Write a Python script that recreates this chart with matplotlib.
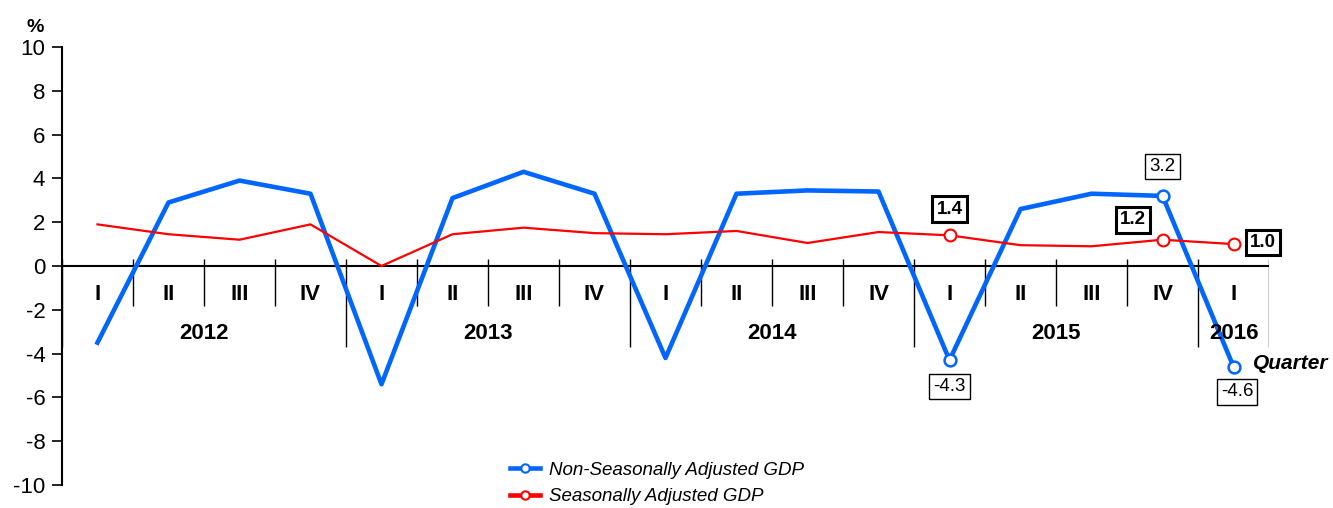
import numpy as np
import matplotlib
matplotlib.use("Agg")
from matplotlib import pyplot as plt

plt.rcParams['font.family'] = ['Liberation Sans', 'DejaVu Sans']
plt.rcParams['axes.unicode_minus'] = False

quarters = ['I', 'II', 'III', 'IV'] * 4 + ['I']
years = ['2012', '2013', '2014', '2015', '2016']
nsa_gdp = [-3.5, 2.9, 3.9, 3.3, -5.4, 3.1, 4.3, 3.3, -4.2, 3.3, 3.45, 3.4,
           -4.3, 2.6, 3.3, 3.2, -4.6]
sa_gdp = [1.9, 1.45, 1.2, 1.9, 0.0, 1.45, 1.75, 1.5, 1.45, 1.6, 1.05, 1.55,
          1.4, 0.95, 0.9, 1.2, 1.0]
marked = [12, 15, 16]

blue = '#0066ff'
red = '#ff0000'

fig = plt.figure(figsize=(13.33, 5.08), dpi=100)
ax = fig.add_axes([0.0465, 0.0453, 0.9055, 0.8622])

x = np.arange(len(quarters))
ax.plot(x, nsa_gdp, color=blue, lw=3.3, zorder=3)
ax.plot(x, sa_gdp, color=red, lw=1.6, zorder=3)
ax.plot(x[marked], np.array(nsa_gdp)[marked], 'o', ms=8.5, mfc='white',
        mec=blue, mew=1.8, zorder=4)
ax.plot(x[marked], np.array(sa_gdp)[marked], 'o', ms=8.5, mfc='white',
        mec=red, mew=1.5, zorder=4)

ax.set_xlim(-0.5, len(quarters) - 0.5)
ax.set_ylim(-10, 10)
ax.set_yticks(range(-10, 11, 2))
ax.tick_params(axis='y', labelsize=16, length=7, width=1.2, pad=5)
ax.set_xticks([])
for s in ['top', 'right', 'bottom']:
    ax.spines[s].set_visible(False)
ax.spines['left'].set_linewidth(1.5)

# category axis drawn at zero
ax.axhline(0, color='black', lw=1.5, zorder=2)
for i in range(len(quarters) + 1):
    low = -3.7 if i % 4 == 0 or i == len(quarters) else -1.83
    ax.vlines(i - 0.5, low, 0.32, color='black', lw=1.0, zorder=2)
for i, q in enumerate(quarters):
    ax.text(i, -1.28, q, ha='center', va='center', fontsize=16,
            fontweight='bold')
for k, yr in enumerate(years):
    xc = k * 4 + 1.5 if k < 4 else 16
    ax.text(xc, -3.1, yr, ha='center', va='center', fontsize=16,
            fontweight='bold')

ax.text(-0.88, 10.9, '%', ha='center', va='center', fontsize=14,
        fontweight='bold', clip_on=False)
ax.text(16.28, -4.45, 'Quarter', ha='left', va='center', fontsize=15,
        fontweight='bold', style='italic', clip_on=False)

# value boxes
plain = dict(boxstyle='square,pad=0.22', fc='white', ec='black', lw=1.0)
bold = dict(boxstyle='square,pad=0.22', fc='white', ec='black', lw=2.2)
ax.text(12, 2.6, f'{sa_gdp[12]:.1f}', ha='center', va='center',
        fontsize=13.5, fontweight='bold', bbox=bold)
ax.text(14.58, 2.1, f'{sa_gdp[15]:.1f}', ha='center', va='center',
        fontsize=13.5, fontweight='bold', bbox=bold)
ax.text(16.42, 1.08, f'{sa_gdp[16]:.1f}', ha='center', va='center',
        fontsize=13.5, fontweight='bold', bbox=bold)
ax.text(15.0, 4.55, f'{nsa_gdp[15]:.1f}', ha='center', va='center',
        fontsize=13.5, bbox=plain)
ax.text(12, -5.5, f'{nsa_gdp[12]:.1f}', ha='center', va='center',
        fontsize=13.5, bbox=plain)
ax.text(16.05, -5.75, f'{nsa_gdp[16]:.1f}', ha='center', va='center',
        fontsize=13.5, bbox=plain)

# legend
h1, = ax.plot([], [], color=blue, lw=3.3, marker='o', ms=6, mfc='white',
              mec=blue, mew=1.5)
h2, = ax.plot([], [], color=red, lw=3.3, marker='o', ms=6, mfc='white',
              mec=red, mew=1.5)
leg = ax.legend([h1, h2], ['Non-Seasonally Adjusted GDP', 'Seasonally Adjusted GDP'],
                loc='upper left', bbox_to_anchor=(0.365, 0.07), frameon=False,
                prop={'size': 13.5, 'style': 'italic'}, handlelength=1.6,
                handletextpad=0.5, labelspacing=0.5, borderaxespad=0)

fig.savefig('out.png', dpi=100)
